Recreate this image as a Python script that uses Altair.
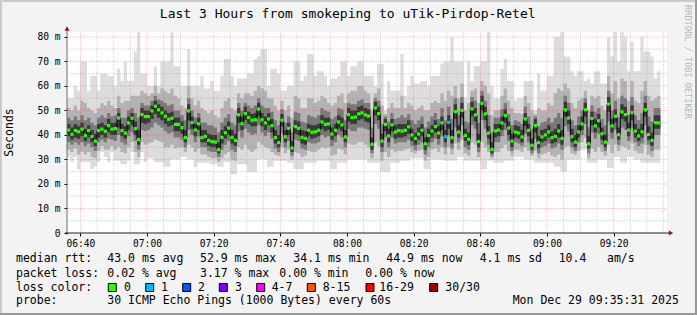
import altair as alt
import pandas as pd

# ---------------- data ----------------
# one step = one minute, first step starts at 06:36 (t = minutes after 06:36)
med = [42.0,40.3,41.8,41.3,42.4,39.8,41.8,39.4,37.5,41.8,
       42.4,41.5,43.8,42.4,42.6,46.9,41.8,40.8,44.9,46.8,
       42.6,38.1,48.3,47.5,47.5,49.8,51.7,50.3,49.0,47.6,
       46.4,46.8,44.3,44.3,43.0,39.0,49.8,45.1,42.0,44.5,
       39.0,39.4,37.8,37.3,37.1,34.0,39.0,40.9,42.8,39.0,
       37.8,48.2,44.6,48.7,47.1,46.0,46.2,50.5,46.2,44.9,
       46.5,43.8,38.9,36.9,46.0,39.3,42.7,34.7,43.4,42.7,
       39.0,38.6,41.9,41.1,41.3,41.9,45.3,44.3,44.5,40.4,
       41.9,45.3,44.1,39.2,48.3,47.1,47.3,48.6,49.0,48.2,
       47.7,36.2,51.0,48.7,37.5,44.3,39.6,44.1,41.2,41.8,
       41.6,41.9,43.3,40.0,38.6,40.4,41.9,36.4,39.8,41.6,
       43.4,40.8,44.9,39.3,45.1,38.9,49.5,41.2,50.0,39.8,
       38.2,50.6,48.2,37.3,52.9,48.6,40.8,34.1,41.6,42.0,
       44.9,47.9,42.8,37.5,41.2,40.8,39.2,46.5,41.9,35.8,
       43.8,36.9,39.2,40.0,41.2,38.9,39.4,41.6,38.6,50.2,
       46.9,39.3,37.1,41.2,44.5,50.3,36.4,46.7,43.7,45.8,
       40.5,37.1,52.6,43.7,47.6,40.1,49.4,48.3,42.0,49.1,
       41.6,39.6,41.3,50.2,40.2,37.8,45.0,44.9]

top = [55,55,60,58,70,70,58,64,64,58,
       65,65,64,64,60,67,62,70,62,62,
       74,82,65,65,60,60,68,60,70,70,
       70,82,68,68,60,60,75,60,60,60,
       64,59,59,62,58,58,64,71,71,64,
       60,63,63,63,65,65,71,72,75,75,
       60,67,67,65,58,58,60,60,70,70,
       62,64,73,73,64,66,66,64,60,63,
       63,64,70,70,64,68,68,70,70,64,
       64,64,60,69,69,50,62,58,58,58,
       73,56,60,64,61,61,62,62,60,64,
       64,64,69,70,70,80,70,70,70,55,
       70,62,68,68,70,70,82,60,55,55,
       67,71,62,62,54,55,55,62,62,62,
       50,65,58,58,64,64,80,80,82,72,
       72,66,64,66,66,62,63,61,66,66,
       61,61,80,72,82,70,82,80,66,78,
       66,66,80,74,74,72,63,66]

bot = [31,29,31,26,29,29,29,26,27,29,
       33,31,29,33,29.5,29.5,28,28,29.5,33,
       28,28,33,29,30.5,30.5,29,29,29,27,
       27,30,30,30,31,31,30,30,27,28.7,
       28.7,28.7,28.7,28,28,27,27,29,29,24,
       24,28,28,28,25,25,25,30,30,30,
       27,27,29.5,29.5,29.5,29.5,28.7,28.7,26,26,
       26,28.7,28.7,28.7,28.7,29.5,29.5,29.5,29.5,26,
       26,28.7,28.7,28.7,30,30,30,30,30,30,
       28.7,28.7,28.7,28.7,25,25,25,28.7,28.7,28.7,
       29.5,29.5,29.5,30.5,30.5,30.5,30.5,26,26,30,
       30,30,30,29.5,29.5,29.5,29.5,31,31,29.5,
       29.5,29.5,29.5,29.5,26,26,29.5,29.5,28.7,28.7,
       28.7,29.5,29.5,29.5,31,31,31,30,30,30,
       28.7,28.7,28.7,28.7,28.7,28.7,27,27,25,25,
       30,30,30,30,34,34,28.7,28.7,28.7,30,
       30,30,26.5,26.5,31,31,28.7,28.7,31,31,
       30,30,28.7,28.7,28.7,28.7,28.7,28.7]

hi1 = [51,50,52,50,54,53,51,50,49,51,
       53,52,54,52,51,56,53,54,54,56,
       56,56,58,57,56,57,60,57,59,58,
       57,59,56,55,52,51,60,55,52,54,
       51,50,49,50,48,47,51,54,55,51,
       50,57,55,57,57,56,58,60,59,58,
       55,55,52,50,54,50,52,47,56,55,
       51,51,55,55,53,54,56,55,53,52,
       53,56,57,53,57,58,58,60,60,58,
       57,50,57,59,52,48.5,51,53,51,51,
       56,51,53,52,50,51,52,50,50,53,
       54,53,57,54,58,56,60,55,61,50,
       53,58,59,53,62,60,57,48,50,50,
       56,59,54,51,49,49,48.5,56,53,50,
       48.5,51,50,50,53,52,57,59,58,61,
       59,53,51,54,55,58,50,56,55,56,
       52,50,64,57,62,55,63,62,54,62,
       54,53,58,62,56,54,55,56]

hi2 = [47,46,47.5,46,48,46,47,45,44,47,
       48,47,49,47.5,48,51,47,47,50,51,
       49,47,53,52,52,54,56,54.5,54,53,
       52,52.5,50,50,48,46,55,50,47,49,
       45,45,44,44,43,41,45,47,48.5,45,
       44,53,50,53,52,51,52,55,52,51,
       51,49.5,46,44,50.5,45,47.5,41,49.5,49,
       45.5,45,48,47.5,47,48,51,50,49.5,46.5,
       47.5,51,50.5,46,53,52.5,52.5,54,54.5,53,
       53,43,55,54,44.5,47.5,45.5,49,46.5,47,
       48,47,48.5,46,44.5,46,47.5,43,45.5,47.5,
       49,46.5,51,46,51.5,46.5,55,48,55.5,45.5,
       45,55.5,54,45,58,54,48,41,47,47,
       50.5,53,48.5,44,46,45.5,44.5,51.5,47.5,42.5,
       47.5,43.5,45,45.5,47,45,47,49,47,56,
       53,46,44,47.5,50,55,43,52,49.5,51,
       46.5,44,58,50,54,47,56,55,48,55.5,
       48,46,49,56,47.5,45.5,51,51]

hi3 = [44.5,43,44.5,43.5,45,42.5,44,42,40.5,44.5,
       45,44,46.5,45,45,49,44.5,43.5,47.5,49,
       45.5,42,51,50,50,52,54,52.5,51.5,50,
       49,49.5,47,47,45.5,42,52.5,47.5,44.5,47,
       42,42,40.5,40,40,37,42,43.5,45.5,42,
       40.5,51,47.5,51.5,49.5,48.5,49,53,49,47.5,
       49,46.5,42,40,48.5,42,45,37.5,46,45.5,
       42,41.5,44.5,44,44,44.5,48,47,47,43,
       44.5,48,47,42,51,50,50,51.5,52,51,
       50.5,39,53.5,51.5,40.5,46.5,42.5,46.5,44,44.5,
       44.5,44.5,46,42.5,41,43,44.5,39,42.5,44,
       46,43.5,47.5,42,48,42,52.5,44,53,42.5,
       41,53.5,51,40.5,56,51.5,43.5,37,44.5,44.5,
       47.5,50.5,45.5,40.5,44,43.5,42,49,44.5,38.5,
       46.5,39.5,42,42.5,44,41.5,42.5,44.5,42,53.5,
       50,42.5,40,44,47.5,53,39.5,49.5,46.5,48.5,
       43,40,55.5,46.5,50.5,43,52.5,51.5,45,52,
       44.5,42.5,44.5,53,43.5,41,48,48]

lo3 = [39.5,38,39,38.5,39.5,37.5,39,37,35.5,39,
       40,39,41,40,40,43,39.5,38.5,42,44,
       40,36,45,44.5,45,46.5,48.5,47,46,44.5,
       43.5,44,41.5,41.5,40.5,37,46,42.5,39.5,42,
       37,37,35.5,35,35,32.5,36.5,38.5,40,36.5,
       35.5,45,42,46,44.5,43.5,43.5,47.5,43.5,42,
       44,41,36.5,35,43.5,37,40,33,40.5,40,
       36.5,36,39.5,38.5,39,39.5,42.5,41.5,42,38,
       39.5,42.5,41.5,37,45.5,44.5,44.5,46,46.5,45.5,
       45,34,48,46,35,41.5,37,41.5,38.5,39,
       39,39.5,40.5,37.5,36,38,39.5,34,37,39,
       41,38.5,42,37,42.5,36.5,46.5,39,47,37.5,
       36,47.5,45.5,35,50,46,38.5,32.5,39,39.5,
       42,45,40,35,39,38.5,37,43.5,39.5,34,
       41,34.5,37,37.5,39,36.5,37,39,36,47.5,
       44.5,37,35,39,42,47.5,34.5,44,41,43,
       38,35,49.5,41,45,38,46.5,45.5,39.5,46,
       39,37.5,39,47.5,38,35.5,42.5,42.5]

lo2 = [37,36,37,36,37,35.5,36.5,35,33.5,37,
       38,37,38.5,38,37.5,40,37,36,39.5,41,
       37.5,34,42,41.5,42,43,45,44,43,41.5,
       40.5,41,39,39,38,35,42,40,37,39.5,
       35,35,33.5,33,33,31,34,36,37.5,34,
       33,41.5,39,42.5,41,40,40.5,44,41,39.5,
       41,38.5,34.5,33,40.5,35,37.5,31.5,38,37.5,
       34.5,34,37,36.5,36.5,37,40,39,39.5,35.5,
       37,40,39,35,42.5,41.5,41.5,43,43,42.5,
       42,32.5,44.5,42.5,33,39,35,39,36.5,37,
       37,37,38,35.5,34,36,37,32,35,37,
       38.5,36,39.5,35,40,34.5,43,37,44,35,
       34,44,42.5,33,46,42.5,36,31.5,37,37,
       39.5,42,37.5,33.5,37,36.5,35.5,40.5,37,32.5,
       38.5,32.5,35,35.5,36.5,34.5,35,36.5,34,43.5,
       41.5,35,33.5,37,40,44.5,32.5,41,38.5,40.5,
       36,33.5,45.5,38.5,42,36,43,42,37.5,43,
       37,35.5,36.5,44,36,33.5,40,40]

lo1 = [34,33,34.5,32,33,32,33,31,30.5,33.5,
       35.5,34,34,35.5,34,35,33,32.5,35,37,
       33,31,37,36,36.5,37,38,37.5,37,35,
       35,36,34.5,35,35,33,36,35,33,34.5,
       32,32,31,30.5,30.5,29,30.5,32,33,30,
       29.5,35,34,36,34,33,34,37,36,35,
       34.5,33,32,31.5,35,32.5,34,30,33,32.5,
       31,31.5,33.5,33,33,34,35,34.5,35,31.5,
       32,34.5,34,32,36.5,36,36,37,37,36,
       35,30.5,37,35.5,29.5,33,31,34,33,33.5,
       33.5,34,34.5,33,32.5,33.5,34,29.5,31,34,
       34.5,33,35,32,35,32,36.5,34,38,32.5,
       31.5,37,36,31,37,35,33,30.5,33,33,
       34.5,36,33.5,31.5,34,34,33,35,33.5,31.5,
       33.5,30.5,32,32.5,33,31.5,31,32,30,35,
       35.5,32.5,32,33.5,37,39,30.5,34.5,33,35,
       33,31.5,36,32.5,36,33.5,35.5,35,34,36.5,
       33.5,32.5,32.5,36,32,31,34,34]

# steps where pings were lost (step index -> lost pings)
loss_steps = {113: 1, 114: 1}

x_ticks = [4, 24, 44, 64, 84, 104, 124, 144, 164]
x_tick_labels = ["06:40", "07:00", "07:20", "07:40", "08:00", "08:20", "08:40", "09:00", "09:20"]
x_minor = [9, 14, 19, 29, 34, 39, 49, 54, 59, 69, 74, 79, 89, 94, 99, 109, 114, 119,
           129, 134, 139, 149, 154, 159, 169, 174, 179]
y_ticks = [0, 10, 20, 30, 40, 50, 60, 70, 80]
y_major = [10, 20, 30, 40, 50, 60, 70, 80]
y_minor = [5, 15, 25, 35, 45, 55, 65, 75]

loss_labels = ["0", "1", "2", "3", "4-7", "8-15", "16-29", "30/30"]
loss_colors = ["#26ff00", "#00b8ff", "#0059ff", "#7e00ff", "#ff00ff", "#ff5500", "#ff0000", "#a10000"]

title = "Last 3 Hours from smokeping to uTik-Pirdop-Retel"
stats_rtt = ["median rtt:", "43.0 ms avg", "52.9 ms max", "34.1 ms min", "44.9 ms now", "4.1 ms sd", "10.4", "am/s"]
stats_loss = ["packet loss:", "0.02 % avg", "3.17 % max", "0.00 % min", "0.00 % now"]
probe = ["probe:", "30 ICMP Echo Pings (1000 Bytes) every 60s", "Mon Dec 29 09:35:31 2025"]

# ---------------- build tables ----------------
n = len(med)
df = pd.DataFrame({"t": list(range(n)), "t2": list(range(1, n + 1)), "med": med,
                   "top": top, "bot": bot, "hi1": hi1, "lo1": lo1,
                   "hi2": hi2, "lo2": lo2, "hi3": hi3, "lo3": lo3})
df["lc"] = [loss_colors[loss_steps.get(i, 0)] for i in range(n)]
HALF = 0.65
df["mlo"] = df["med"] - HALF
df["mhi"] = df["med"] + HALF
# closing point so that the last step of a step-after area has its width
df_a = pd.concat([df, df.iloc[[-1]].assign(t=n)], ignore_index=True)

W, H = 600, 201
OX, OY = 67, 32
MONO = "DejaVu Sans Mono"

xs = alt.Scale(domain=[0, 180], nice=False, zero=False)
ys = alt.Scale(domain=[0, 82], nice=False, zero=True)

label_arr = "[" + ",".join("'%s'" % s for s in x_tick_labels) + "]"
xaxis = alt.Axis(values=x_ticks, labelExpr=label_arr + "[round((datum.value - 4) / 20)]",
                 domain=False, grid=False, ticks=True, tickSize=3, tickColor="#000000",
                 labelFont=MONO, labelFontSize=9.6, labelColor="#000000", labelPadding=2,
                 title="", labelFlush=False, labelOverlap=False)
yaxis = alt.Axis(values=y_ticks, labelExpr="datum.value == 0 ? '0' : datum.value + ' m'",
                 domain=False, grid=False, ticks=True, tickSize=3, tickColor="#000000",
                 labelFont=MONO, labelFontSize=9.6, labelColor="#000000", labelPadding=4,
                 title="", labelFlush=False, labelOverlap=False)

one = alt.Data(values=[{"a": 1}])
layers = []

# smoke
bands = [("bot", "top", "#dddddd"), ("lo1", "hi1", "#b3b3b3"),
         ("lo2", "hi2", "#7a7a7a"), ("lo3", "hi3", "#383838")]
for lo, hi, col in bands:
    layers.append(
        alt.Chart(df_a).mark_area(interpolate="step-after", color=col).encode(
            x=alt.X("t:Q", scale=xs, axis=xaxis),
            y=alt.Y(hi + ":Q", scale=ys, axis=yaxis),
            y2=alt.Y2(lo + ":Q"),
        )
    )

# grid (drawn over the smoke like rrdtool)
def hgrid(vals, col, op):
    return alt.Chart(pd.DataFrame({"v": vals})).mark_rule(
        color=col, opacity=op, strokeDash=[1, 1], strokeWidth=1).encode(
        y=alt.Y("v:Q", scale=ys, axis=yaxis))

def vgrid(vals, col, op):
    return alt.Chart(pd.DataFrame({"v": vals})).mark_rule(
        color=col, opacity=op, strokeDash=[1, 1], strokeWidth=1).encode(
        x=alt.X("v:Q", scale=xs, axis=xaxis))

layers += [hgrid(y_minor, "#808080", 0.35), vgrid(x_minor, "#808080", 0.35),
           hgrid(y_major, "#d03a3a", 0.3), vgrid(x_ticks, "#d03a3a", 0.3)]

# median line + loss coloured median marks
layers.append(alt.Chart(df_a).mark_line(interpolate="step-after", color="#000000", strokeWidth=1).encode(
    x=alt.X("t:Q", scale=xs, axis=xaxis), y=alt.Y("med:Q", scale=ys, axis=yaxis)))
layers.append(alt.Chart(df).mark_rect().encode(
    x=alt.X("t:Q", scale=xs, axis=xaxis), x2="t2:Q",
    y=alt.Y("mlo:Q", scale=ys, axis=yaxis), y2="mhi:Q",
    color=alt.Color("lc:N", scale=None)))

# helpers in canvas pixel coordinates
def box(x1, y1, x2, y2, fill, **kw):
    return alt.Chart(one).mark_rect(color=fill, **kw).encode(
        x=alt.value(x1 - OX), x2=alt.value(x2 - OX), y=alt.value(y1 - OY), y2=alt.value(y2 - OY))

def rule(x1, y1, x2, y2, col, w=1):
    return alt.Chart(one).mark_rule(color=col, strokeWidth=w).encode(
        x=alt.value(x1 - OX), x2=alt.value(x2 - OX), y=alt.value(y1 - OY), y2=alt.value(y2 - OY))

def txt(s, x, y, size=11.5, color="#000000", angle=0, align="left", font=MONO):
    return alt.Chart(one).mark_text(text=s, font=font, fontSize=size, color=color, angle=angle,
                                    align=align, baseline="middle").encode(
        x=alt.value(x - OX), y=alt.value(y - OY))

def arrow(x, y, shape):
    return alt.Chart(one).mark_point(shape=shape, filled=True, size=26, color="#8b1c1c", opacity=1).encode(
        x=alt.value(x - OX), y=alt.value(y - OY))

# axes lines and arrows
layers.append(rule(67, 29, 67, 235, "#6a6a6a"))
layers.append(rule(65, 233, 670, 233, "#202020"))
layers.append(arrow(67, 28.5, "triangle-up"))
layers.append(arrow(671, 233, "triangle-right"))

# frame
layers.append(box(0, 0, 697, 2, "#cbcbcb"))
layers.append(box(0, 0, 2, 315, "#cbcbcb"))
layers.append(box(695, 0, 697, 315, "#999999"))
layers.append(box(0, 313, 697, 315, "#999999"))

# titles
layers.append(txt(title, 347.7, 14, size=13, align="center"))
layers.append(txt("Seconds", 10, 132.5, size=11.5, angle=270, align="center"))
layers.append(txt("RRDTOOL / TOBI OETIKER", 688, 62, size=8.6, color="#b8b8b8", angle=90, align="center"))

# legend lines
rtt_x = [16, 107.3, 200, 293.3, 386.3, 479.7, 558.7, 607]
for s, x in zip(stats_rtt, rtt_x):
    layers.append(txt(s, x, 259.3))
loss_x = [16, 107.3, 200, 279.3, 365.3]
for s, x in zip(stats_loss, loss_x):
    layers.append(txt(s, x, 273.5))
layers.append(txt("loss color:", 16, 287.7))
sw_x = [108.3, 145.7, 182.7, 219.3, 256.7, 307.3, 366, 429.7]
lab_x = [124, 161, 198, 235, 271.7, 322.7, 379.3, 445.3]
for lab, col, sx, lx in zip(loss_labels, loss_colors, sw_x, lab_x):
    layers.append(box(sx, 283.5, sx + 8, 291.5, col, stroke="#000000", strokeWidth=1))
    layers.append(txt(lab, lx, 287.7))
probe_x = [16, 107.3, 512.7]
for s, x in zip(probe, probe_x):
    layers.append(txt(s, x, 301.3))

chart = alt.layer(*layers).properties(
    width=W, height=H,
    padding={"left": OX, "top": OY, "right": 697 - OX - W, "bottom": 315 - OY - H},
    autosize=alt.AutoSizeParams(type="none"),
    background="#f3f3f3",
).configure_view(fill="#ffffff", strokeWidth=0)

chart.save("out.html", embed_options={"renderer": "svg", "actions": False})
